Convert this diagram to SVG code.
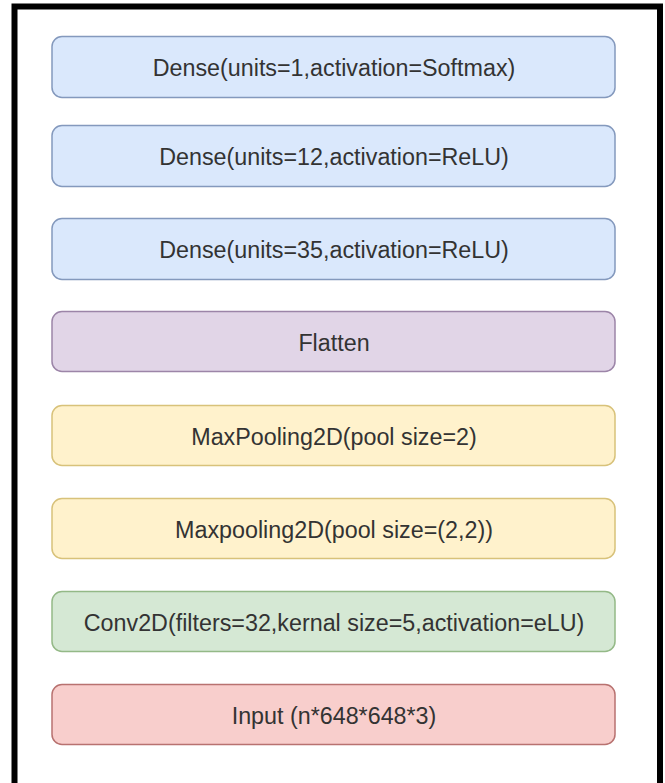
<svg xmlns="http://www.w3.org/2000/svg" width="665" height="783" viewBox="0 0 665 783">
<style>
.box{stroke-width:1.5}
.blue{fill:#dae8fc;stroke:#8499bd}
.purple{fill:#e1d5e7;stroke:#9c85a8}
.yellow{fill:#fff2cc;stroke:#d8c27a}
.green{fill:#d5e8d4;stroke:#94b987}
.red{fill:#f8cecc;stroke:#b87270}
text{font-family:"Liberation Sans",Arial,sans-serif;font-size:23.3px;fill:#333;text-anchor:middle}
</style>
<rect x="0" y="0" width="665" height="783" fill="#fff"/>
<path d="M14.5,783 V6.5 H660 V783" fill="none" stroke="#000" stroke-width="6"/>
<g id="connectors"></g>
<g id="dense1"><rect class="box blue" x="52" y="36.5" width="563" height="61" rx="10"/><text x="334" y="76">Dense(units=1,activation=Softmax)</text></g>
<g id="dense2"><rect class="box blue" x="52" y="125.5" width="563" height="61" rx="10"/><text x="334" y="165">Dense(units=12,activation=ReLU)</text></g>
<g id="dense3"><rect class="box blue" x="52" y="218.5" width="563" height="61" rx="10"/><text x="334" y="258">Dense(units=35,activation=ReLU)</text></g>
<g id="flatten"><rect class="box purple" x="52" y="311.5" width="563" height="60" rx="10"/><text x="334" y="350.5">Flatten</text></g>
<g id="maxpool1"><rect class="box yellow" x="52" y="405.5" width="563" height="60" rx="10"/><text x="334" y="444.5">MaxPooling2D(pool size=2)</text></g>
<g id="maxpool2"><rect class="box yellow" x="52" y="498.5" width="563" height="60" rx="10"/><text x="334" y="537.5">Maxpooling2D(pool size=(2,2))</text></g>
<g id="conv"><rect class="box green" x="52" y="591.5" width="563" height="60" rx="10"/><text x="334" y="630.5">Conv2D(filters=32,kernal size=5,activation=eLU)</text></g>
<g id="input"><rect class="box red" x="52" y="684.5" width="563" height="60" rx="10"/><text x="334" y="723.5">Input (n*648*648*3)</text></g>
</svg>
